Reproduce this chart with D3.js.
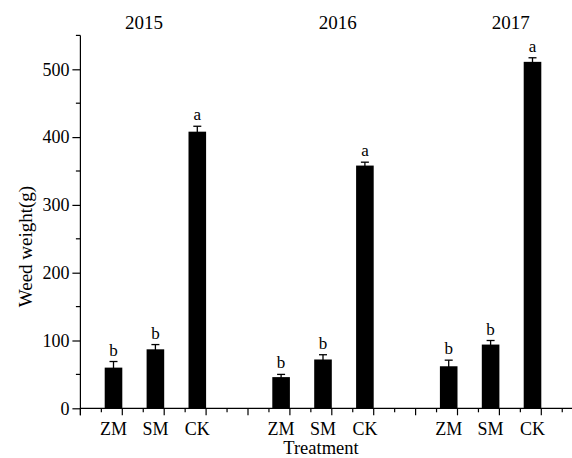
<!DOCTYPE html>
<html>
<head>
<meta charset="utf-8">
<script src="https://cdn.jsdelivr.net/npm/d3@7/dist/d3.min.js"></script>
<style>
html,body{margin:0;padding:0;background:#fff;}
svg{display:block;}
text{font-family:"Liberation Serif","Times New Roman",serif;fill:#000;}
</style>
</head>
<body>
<svg id="chart" width="572" height="458"></svg>
<script>
// ---- data ----
const years = ["2015", "2016", "2017"];
const treatments = ["ZM", "SM", "CK"];
const weight2015 = [60, 87, 408];
const weight2016 = [46, 72, 358];
const weight2017 = [62, 94, 511];
const error2015 = [9, 7, 8];
const error2016 = [4, 7, 5];
const error2017 = [9, 6, 6];
const letters2015 = ["b", "b", "a"];
const letters2016 = ["b", "b", "a"];
const letters2017 = ["b", "b", "a"];
const yTicks = [0, 100, 200, 300, 400, 500];
const xTitle = "Treatment";
const yTitle = "Weed weight(g)";

const weights = [weight2015, weight2016, weight2017];
const errors = [error2015, error2016, error2017];
const letters = [letters2015, letters2016, letters2017];

const rows = [];
years.forEach((yr, g) => treatments.forEach((t, i) => rows.push({
  year: yr, group: g, treat: t, pos: 1 + 4 * g + i,
  value: weights[g][i], err: errors[g][i], letter: letters[g][i]
})));

// ---- layout ----
const svg = d3.select("#chart");
const x0 = 80.4, unit = 41.9;
const x = d3.scaleLinear().domain([0, 12]).range([x0, x0 + 12 * unit]);
const y = d3.scaleLinear().domain([0, 550]).range([408.3, 35.4]);
const barW = 0.42; // in x units; bars end at integer positions
const titlePos = [1.52, 6.14, 10.27];
const serif = "'Liberation Serif','Times New Roman',serif";

// y axis
const yAxis = d3.axisLeft(y).tickValues(yTicks).tickSize(8).tickPadding(3).tickFormat(d3.format("d"));
const gy = svg.append("g").attr("transform", `translate(${x0},0)`).call(yAxis)
  .attr("font-family", serif);
gy.select(".domain").attr("d", `M0,${y(550)}V${y(0) + 7}`);
gy.selectAll("line").attr("stroke", "#000").attr("stroke-width", 1.2);
gy.select(".domain").attr("stroke", "#000").attr("stroke-width", 1.2);
gy.selectAll("text").style("font-size", "18px").style("font-family", serif);
// minor y ticks
gy.selectAll(".minor").data(d3.range(50, 551, 100)).enter().append("line")
  .attr("x1", -4.5).attr("x2", 0).attr("y1", d => y(d)).attr("y2", d => y(d))
  .attr("stroke", "#000").attr("stroke-width", 1.2);

// x axis
const gx = svg.append("g").attr("transform", `translate(0,${y(0)})`);
gx.append("line").attr("x1", x(0)).attr("x2", x(12)).attr("y1", 0).attr("y2", 0)
  .attr("stroke", "#000").attr("stroke-width", 1.2);
gx.selectAll(".maj").data(d3.range(0, 13)).enter().append("line")
  .attr("x1", d => x(d)).attr("x2", d => x(d)).attr("y1", 0).attr("y2", 7)
  .attr("stroke", "#000").attr("stroke-width", 1.2);
gx.selectAll(".min").data(d3.range(0.5, 12, 1)).enter().append("line")
  .attr("x1", d => x(d)).attr("x2", d => x(d)).attr("y1", 0).attr("y2", 4)
  .attr("stroke", "#000").attr("stroke-width", 1.2);

// bars
svg.selectAll(".bar").data(rows).enter().append("rect")
  .attr("x", d => x(d.pos - barW)).attr("width", x(barW) - x(0))
  .attr("y", d => y(d.value)).attr("height", d => y(0) - y(d.value))
  .attr("fill", "#000");

// error bars
const capHalf = 4;
const eb = svg.selectAll(".err").data(rows).enter().append("g");
eb.append("line")
  .attr("x1", d => x(d.pos - barW / 2)).attr("x2", d => x(d.pos - barW / 2))
  .attr("y1", d => y(d.value - d.err)).attr("y2", d => y(d.value + d.err))
  .attr("stroke", "#000").attr("stroke-width", 1.3);
eb.append("line")
  .attr("x1", d => x(d.pos - barW / 2) - capHalf).attr("x2", d => x(d.pos - barW / 2) + capHalf)
  .attr("y1", d => y(d.value + d.err)).attr("y2", d => y(d.value + d.err))
  .attr("stroke", "#000").attr("stroke-width", 1.3);

// letters
svg.selectAll(".let").data(rows).enter().append("text")
  .attr("x", d => x(d.pos - barW / 2)).attr("y", d => y(d.value + d.err) - 6)
  .attr("text-anchor", "middle").style("font-size", "17px")
  .text(d => d.letter);

// x tick labels
svg.selectAll(".xl").data(rows).enter().append("text")
  .attr("x", d => x(d.pos - barW / 2)).attr("y", 434.5)
  .attr("text-anchor", "middle").style("font-size", "18px")
  .text(d => d.treat);

// year titles
svg.selectAll(".yr").data(years).enter().append("text")
  .attr("x", (d, i) => x(titlePos[i])).attr("y", 29)
  .attr("text-anchor", "middle").style("font-size", "19px")
  .text(d => d);

// axis titles
svg.append("text").attr("x", 321).attr("y", 454).attr("text-anchor", "middle")
  .style("font-size", "18.5px").text(xTitle);
svg.append("text").attr("transform", "translate(32,246.5) rotate(-90)")
  .attr("text-anchor", "middle").style("font-size", "19px").text(yTitle);
</script>
</body>
</html>
